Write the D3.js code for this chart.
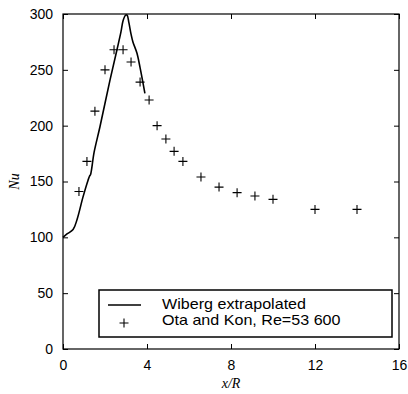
<!DOCTYPE html>
<html>
<head>
<meta charset="utf-8">
<script src="https://cdn.jsdelivr.net/npm/d3@7"></script>
<style>
  html, body { margin: 0; padding: 0; background: #fff; }
  svg { display: block; }
  .tick text { font-family: Arial, "Liberation Sans", sans-serif; font-size: 14px; fill: #000; }
</style>
</head>
<body>
<svg id="chart" width="408" height="394"></svg>
<script>
// Wiberg extrapolated curve (x/R, Nu)
const wibergX  = [0, 0.19, 0.48, 0.67, 0.95, 1.19, 1.27, 1.31, 1.48, 1.76, 2.24, 2.57, 2.76, 2.86, 2.98, 3.05, 3.14, 3.24, 3.33, 3.52, 3.67, 3.9];
const wibergNu = [100, 103, 107, 116, 136, 151, 155, 156, 176, 199, 241, 268, 284, 294, 299, 299, 292, 282, 275, 265, 252, 229];

// Ota and Kon measurements, Re = 53 600
const otaX  = [0.76, 1.14, 1.52, 2.0, 2.43, 2.86, 3.24, 3.67, 4.1, 4.48, 4.9, 5.29, 5.71, 6.57, 7.43, 8.29, 9.14, 10.0, 12.0, 14.0];
const otaNu = [141, 168, 213, 250, 268, 268, 257, 239, 223, 200, 188, 177, 168, 154, 145, 140, 137, 134, 125, 125];

const xTicks = [0, 4, 8, 12, 16];
const yTicks = [0, 50, 100, 150, 200, 250, 300];
const legendLabels = ["Wiberg extrapolated", "Ota and Kon, Re=53 600"];

const svg = d3.select("#chart");
const plotLeft = 63, plotRight = 399, plotTop = 14, plotBottom = 349;

const x = d3.scaleLinear().domain([0, 16]).range([plotLeft, plotRight]);
const y = d3.scaleLinear().domain([0, 300]).range([plotBottom, plotTop]);

// axes with inward ticks on all four sides
const tickLen = 5;
svg.append("g").attr("transform", `translate(0,${plotBottom})`)
  .call(d3.axisBottom(x).tickValues(xTicks).tickSizeInner(-tickLen).tickSizeOuter(0).tickPadding(11))
  .call(g => g.select(".domain").remove());
svg.append("g").attr("transform", `translate(${plotLeft},0)`)
  .call(d3.axisLeft(y).tickValues(yTicks).tickSizeInner(-tickLen).tickSizeOuter(0).tickPadding(10))
  .call(g => g.select(".domain").remove());
svg.append("g").attr("transform", `translate(0,${plotTop})`)
  .call(d3.axisTop(x).tickValues(xTicks).tickSizeInner(-tickLen).tickSizeOuter(0).tickFormat(""))
  .call(g => g.select(".domain").remove());
svg.append("g").attr("transform", `translate(${plotRight},0)`)
  .call(d3.axisRight(y).tickValues(yTicks).tickSizeInner(-tickLen).tickSizeOuter(0).tickFormat(""))
  .call(g => g.select(".domain").remove());
svg.selectAll(".tick line").attr("stroke", "#000");

// plot frame
svg.append("rect")
  .attr("x", plotLeft).attr("y", plotTop)
  .attr("width", plotRight - plotLeft).attr("height", plotBottom - plotTop)
  .attr("fill", "none").attr("stroke", "#000").attr("stroke-width", 1.2);

// Wiberg curve
const line = d3.line().x(d => x(d[0])).y(d => y(d[1])).curve(d3.curveCatmullRom.alpha(0.5));
svg.append("path")
  .datum(wibergX.map((v, i) => [v, wibergNu[i]]))
  .attr("d", line)
  .attr("fill", "none").attr("stroke", "#000").attr("stroke-width", 1.6);

// plus markers
const half = 4.5;
const plus = (cx, cy) => `M${cx - half},${cy}H${cx + half}M${cx},${cy - half}V${cy + half}`;
svg.append("g").selectAll("path")
  .data(otaX.map((v, i) => [v, otaNu[i]]))
  .join("path")
  .attr("d", d => plus(x(d[0]), y(d[1])))
  .attr("stroke", "#000").attr("stroke-width", 1.1).attr("fill", "none");

// axis titles
svg.append("text")
  .attr("x", x(8)).attr("y", 388)
  .attr("text-anchor", "middle")
  .attr("font-family", "'Liberation Serif', 'Times New Roman', serif")
  .attr("font-style", "italic").attr("font-size", 14)
  .text("x/R");
svg.append("text")
  .attr("transform", `translate(19,${(plotTop + plotBottom) / 2}) rotate(-90)`)
  .attr("text-anchor", "middle")
  .attr("font-family", "'Liberation Serif', 'Times New Roman', serif")
  .attr("font-style", "italic").attr("font-size", 14)
  .text("Nu");

// legend
const lg = svg.append("g");
lg.append("rect")
  .attr("x", 99).attr("y", 290).attr("width", 293).attr("height", 47)
  .attr("fill", "#fff").attr("stroke", "#000").attr("stroke-width", 1.5);
lg.append("line")
  .attr("x1", 108).attr("x2", 141).attr("y1", 305).attr("y2", 305)
  .attr("stroke", "#000").attr("stroke-width", 1.6);
lg.append("path")
  .attr("d", plus(124, 323))
  .attr("stroke", "#000").attr("stroke-width", 1.1);
lg.selectAll("text.lbl")
  .data(legendLabels)
  .join("text")
  .attr("class", "lbl")
  .attr("transform", (d, i) => `translate(162,${309 + i * 16}) scale(1.15,1)`)
  .attr("font-family", "Arial, 'Liberation Sans', sans-serif")
  .attr("font-size", 14)
  .text(d => d);
</script>
</body>
</html>
